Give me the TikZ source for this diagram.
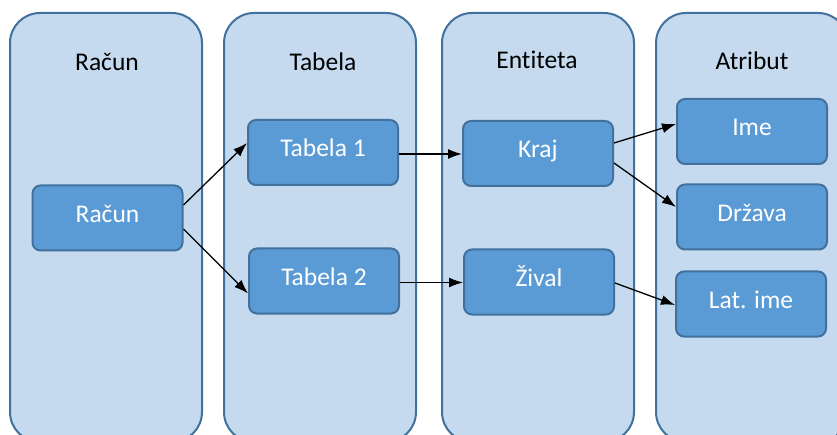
\documentclass[tikz,border=0pt]{standalone}
\usepackage{fontspec}
\setmainfont[RawFeature=-liga]{Carlito}
\usetikzlibrary{arrows.meta}
\definecolor{laneFill}{HTML}{C5DAEE}
\definecolor{laneLine}{HTML}{41719C}
\definecolor{itemFill}{HTML}{5B9BD5}
\definecolor{itemLine}{HTML}{41719C}
\tikzset{
  lane/.style={draw=laneLine, fill=laneFill, line width=2pt, rounded corners=30pt,
    minimum width=192pt, minimum height=429pt, inner sep=0pt},
  lanetitle/.style={anchor=base, text=black, font=\fontsize{25.5}{30}\selectfont, inner sep=0pt},
  item/.style={draw=itemLine, fill=itemFill, line width=2pt, rounded corners=8pt,
    minimum width=150pt, minimum height=65pt, inner sep=0pt, text=white,
    font=\fontsize{25.5}{30}\selectfont, text height=17pt, text depth=8pt},
  link/.style={draw=black, line width=1.3pt, -{Latex[length=14pt,width=10pt]}}
}
\begin{document}
\begin{tikzpicture}[x=1pt,y=-1pt]
  \useasboundingbox (0,0) rectangle (837,435);
  \fill[white] (0,0) rectangle (837,435);

  % swimlanes
  \node[lane] (laneRacun)  at (106,227.5) {};
  \node[lane] (laneTabela) at (320,227.5) {};
  \node[lane] (laneEnt)    at (538,227.5) {};
  \node[lane] (laneAtr)    at (752,227.5) {};

  % lane headings
  \node[lanetitle] (tRacun)  at (107,71) {Račun};
  \node[lanetitle] (tTabela) at (323,71) {Tabela};
  \node[lanetitle] (tEnt)    at (537,69) {Entiteta};
  \node[lanetitle] (tAtr)    at (752,70) {Atribut};

  % items
  \node[item] (racun)  at (107.5,218) {Račun};
  \node[item] (tab1)   at (323,152.5) {Tabela 1};
  \node[item] (tab2)   at (324,281)   {Tabela 2};
  \node[item] (kraj)   at (538,153.5) {Kraj};
  \node[item] (zival)  at (539,282)   {Žival};
  \node[item] (ime)    at (752,131.5) {Ime};
  \node[item] (drzava) at (752,217)   {Država};
  \node[item] (latime) at (751,304)   {Lat. ime};

  % connectors
  \draw[link] ([yshift=13pt]racun.east)  -- ([yshift=9.5pt]tab1.west);
  \draw[link] ([yshift=-11pt]racun.east) -- ([yshift=-12.5pt]tab2.west);
  \draw[link] ([yshift=-1.5pt]tab1.east) -- ([yshift=-0.5pt]kraj.west);
  \draw[link] ([yshift=-1.5pt]tab2.east) -- ([yshift=-0.5pt]zival.west);
  \draw[link] ([yshift=10.5pt]kraj.east) -- ([yshift=7.5pt]ime.west);
  \draw[link] ([yshift=-9.5pt]kraj.east) -- ([yshift=10pt]drzava.west);
  \draw[link] ([yshift=-1pt]zival.east)  -- ([yshift=-1pt]latime.west);
\end{tikzpicture}
\end{document}
